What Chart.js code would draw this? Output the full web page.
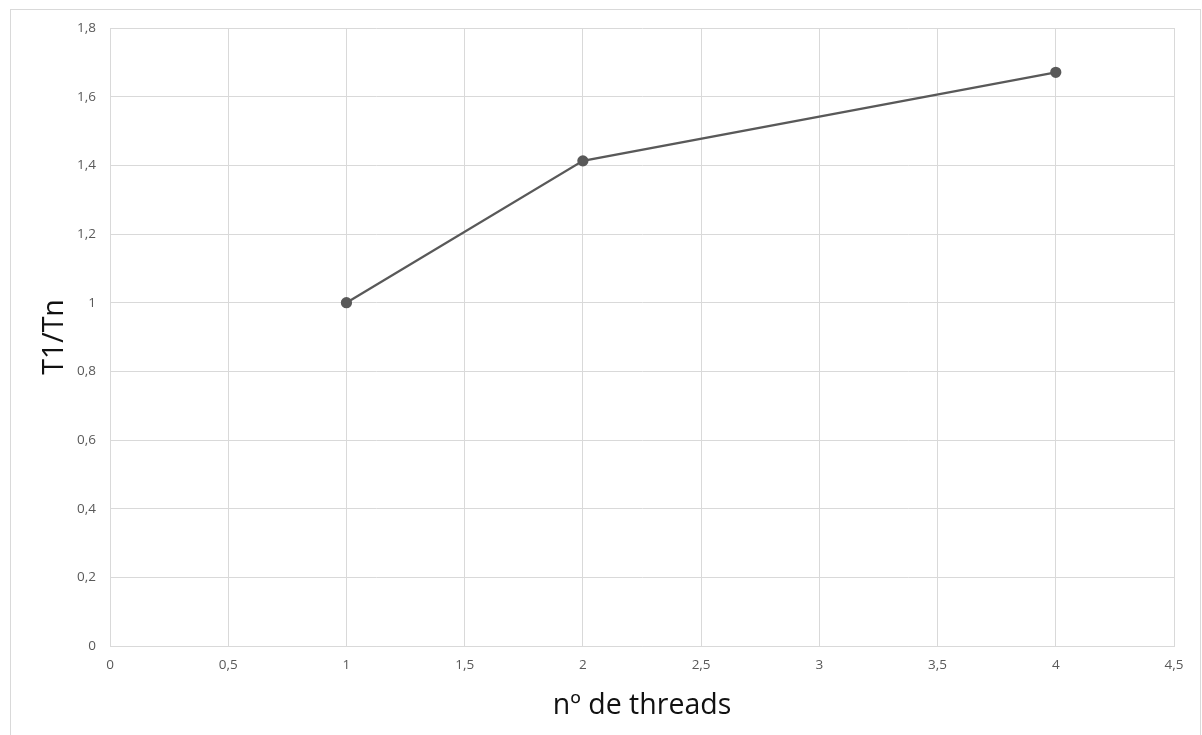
<!DOCTYPE html>
<html>
<head>
<meta charset="utf-8">
<script src="https://cdn.jsdelivr.net/npm/chart.js@4"></script>
<style>
  html, body { margin: 0; padding: 0; background: #fff; }
  #wrap { position: relative; width: 1202px; height: 735px; overflow: hidden; }
  #frame { position: absolute; left: 10px; top: 9px; width: 1189px; height: 740px; border: 1px solid #d9d9d9; }
  #chart1 { position: absolute; left: 0; top: 0; }
</style>
</head>
<body>
<div id="wrap">
  <div id="frame"></div>
  <canvas id="chart1" width="1202" height="735"></canvas>
</div>
<script>
// threads vs speedup
const threads = [1, 2, 4];
const speedup = [1, 1.413, 1.671];
const xTitle = 'nº de threads';
const yTitle = 'T1/Tn';

const fmt = v => String(Number(v.toFixed(2))).replace('.', ',');

const ctx = document.getElementById('chart1').getContext('2d');
const chart1 = new Chart(ctx, {
    type: 'scatter',
    data: {
        datasets: [
            {
                data: threads.map((t, i) => ({ x: t, y: speedup[i] })),
                showLine: true,
                borderColor: '#595959',
                backgroundColor: '#595959',
                borderWidth: 2.25,
                pointRadius: 4.5,
                pointHoverRadius: 4.5,
                tension: 0
            }
        ]
    },
    options: {
        responsive: false,
        animation: false,
        layout: {
            padding: { top: 28, right: 28, left: 0, bottom: 0 }
        },
        scales: {
            x: {
                type: 'linear',
                min: 0,
                max: 4.5,
                afterFit: s => { s.height = 89; },
                ticks: {
                    stepSize: 0.5,
                    color: '#595959',
                    font: { family: 'Open Sans', size: 13.5 },
                    padding: 11,
                    callback: fmt
                },
                grid: { color: '#d9d9d9', drawTicks: false },
                border: { color: '#d9d9d9' },
                title: {
                    display: true,
                    text: xTitle,
                    color: '#111',
                    font: { family: 'Open Sans', size: 28.5 },
                    padding: { bottom: 12 }
                }
            },
            y: {
                min: 0,
                max: 1.8,
                afterFit: s => { s.width = 110; },
                ticks: {
                    stepSize: 0.2,
                    color: '#595959',
                    font: { family: 'Open Sans', size: 13.5 },
                    padding: 14,
                    callback: fmt
                },
                grid: { color: '#d9d9d9', drawTicks: false },
                border: { color: '#d9d9d9' },
                title: {
                    display: true,
                    text: yTitle,
                    color: '#111',
                    font: { family: 'Open Sans', size: 28.5 },
                    padding: { top: 38 }
                }
            }
        },
        plugins: {
            legend: { display: false },
            tooltip: { enabled: false }
        }
    }
});
</script>
</body>
</html>
